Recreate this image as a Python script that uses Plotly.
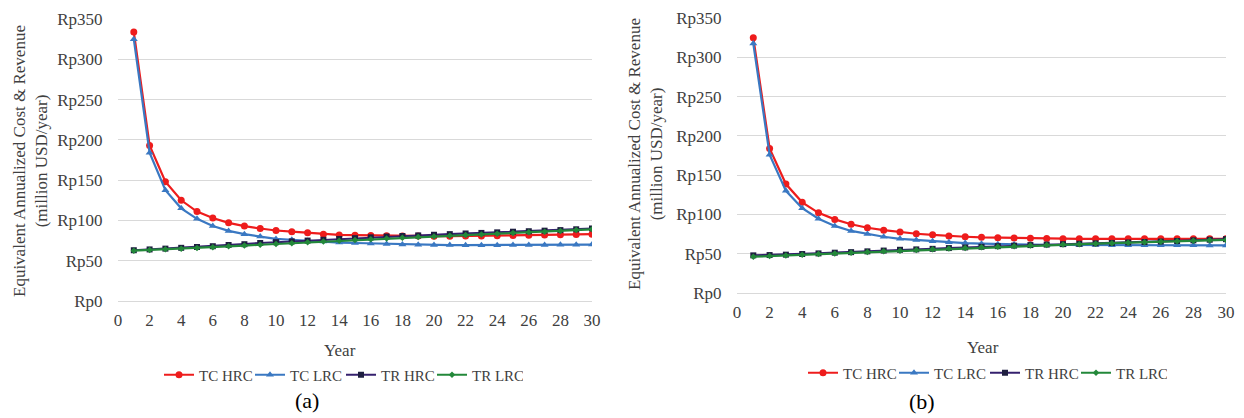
import plotly.graph_objects as go

years = list(range(1, 31))
x_ticks = list(range(0, 31, 2))
y_ticks = list(range(0, 351, 50))
y_tick_labels = ["Rp" + str(v) for v in y_ticks]

# Panel (a)
tc_hrc_a = [334, 193, 148, 125, 111, 103, 97, 93, 90, 87.5, 86, 84.6, 83, 82, 81.7,
            81.3, 81, 80.8, 80.6, 80.5, 80.5, 80.6, 80.8, 81, 81.3, 81.6, 82, 82.3, 82.6, 83]
tc_lrc_a = [325, 184, 137.5, 115, 102, 93, 87, 83, 80, 77, 76, 74.6, 74, 72.5, 72,
            71.5, 70.8, 70.2, 69.8, 69.5, 69.4, 69.3, 69.3, 69.3, 69.4, 69.5, 69.6, 69.7, 69.8, 70]
tr_hrc_a = [63, 64, 65, 66, 67, 68, 69.5, 70.5, 72, 73, 74, 75, 76, 77, 78,
            79, 80, 80.7, 81.4, 82.2, 83, 83.8, 84.5, 85.2, 86, 86.6, 87.3, 88, 89, 90]
tr_lrc_a = [62.5, 63.3, 64.1, 65, 65.9, 66.8, 67.8, 68.8, 69.8, 70.8, 71.8, 72.8, 73.8, 74.8, 75.8,
            76.7, 77.6, 78.5, 79.3, 80.1, 80.9, 81.8, 82.6, 83.5, 84.3, 85.2, 86.1, 87, 88, 89]

# Panel (b)
tc_hrc_b = [325, 184, 138.7, 115.4, 102, 93.7, 87.5, 83, 80, 77.5, 75.4, 74, 72.5, 71.6, 70.8,
            70.4, 70, 69.6, 69.3, 69.1, 69, 69, 69, 69, 69, 69, 69, 69, 69, 69]
tc_lrc_b = [317.5, 176, 130, 108, 94.6, 85.4, 79, 75, 71.6, 69, 67.5, 65.8, 64.6, 63.5, 62.8,
            62.2, 61.8, 61.5, 61.3, 61.1, 61, 61, 60.9, 60.9, 60.8, 60.8, 60.7, 60.7, 60.6, 60.6]
tr_hrc_b = [47.9, 48.3, 48.8, 49.6, 50.4, 51.3, 52, 53, 54, 55, 55.5, 56.2, 57.2, 58, 58.8,
            59.6, 60.3, 61, 61.6, 62.2, 62.7, 63.2, 63.7, 64.3, 64.9, 65.5, 66.2, 67, 67.8, 68.5]
tr_lrc_b = [46.2, 47, 47.8, 48.6, 49.5, 50.4, 51.2, 52.1, 53, 53.9, 54.8, 55.6, 56.5, 57.3, 58.1,
            58.9, 59.6, 60.3, 61, 61.6, 62.2, 62.8, 63.4, 64, 64.6, 65.2, 65.8, 66.4, 67, 67.5]

series_names = ["TC HRC", "TC LRC", "TR HRC", "TR LRC"]
panel_a = [tc_hrc_a, tc_lrc_a, tr_hrc_a, tr_lrc_a]
panel_b = [tc_hrc_b, tc_lrc_b, tr_hrc_b, tr_lrc_b]

colors = ["#EE1C1C", "#3A78C2", "#35206E", "#23883A"]
marker_colors = ["#EE1C1C", "#3A78C2", "#1E1E40", "#23883A"]
symbols = ["circle", "triangle-up", "square", "diamond"]
msizes = [7, 7, 6, 5]

FONT = "'Liberation Serif', 'Times New Roman', serif"
TXT = "#404040"

# page has an 8px body margin; figure coordinates = page coordinates - OFF
OFF = 8
W, H = 1244 - OFF, 418 - OFF

fig = go.Figure()
for vals_list, xa, ya, lg in [(panel_a, "x", "y", "legend"), (panel_b, "x2", "y2", "legend2")]:
    for i, vals in enumerate(vals_list):
        fig.add_trace(go.Scatter(
            x=years, y=vals, mode="lines+markers", name=series_names[i],
            line=dict(color=colors[i], width=2.2),
            marker=dict(symbol=symbols[i], size=msizes[i], color=marker_colors[i]),
            xaxis=xa, yaxis=ya, legend=lg,
        ))

def px_x(p):
    return (p - OFF) / W

def px_y(p):
    return (H - (p - OFF)) / H

xa_common = dict(range=[0, 30], tickvals=x_ticks, showgrid=False, zeroline=False,
                 showline=False, ticks="outside", ticklen=4, tickcolor="rgba(0,0,0,0)",
                 tickfont=dict(family=FONT, size=17, color=TXT), fixedrange=True,
                 automargin=False, ticklabeloverflow="allow")
ya_common = dict(range=[0, 350], tickmode="array", tickvals=y_ticks, ticktext=y_tick_labels,
                 showgrid=True,
                 gridcolor="#D9D9D9", gridwidth=1, zeroline=True, zerolinecolor="#D9D9D9",
                 zerolinewidth=1, showline=False, ticks="outside", ticklen=11,
                 tickcolor="rgba(0,0,0,0)",
                 tickfont=dict(family=FONT, size=17, color=TXT), fixedrange=True,
                 automargin=False, ticklabeloverflow="allow")

leg_common = dict(orientation="h", xanchor="center", yanchor="middle",
                  font=dict(family=FONT, size=15, color=TXT), bgcolor="rgba(0,0,0,0)",
                  itemwidth=30, tracegroupgap=0, entrywidth=46, entrywidthmode="pixels")

fig.update_layout(
    width=W, height=H,
    margin=dict(l=0, r=0, t=0, b=0, autoexpand=False),
    paper_bgcolor="white", plot_bgcolor="white",
    font=dict(family=FONT, color=TXT),
    xaxis=dict(domain=[px_x(118), px_x(592)], anchor="y", **xa_common),
    yaxis=dict(domain=[px_y(301), px_y(19)], anchor="x", **ya_common),
    xaxis2=dict(domain=[px_x(737), px_x(1226)], anchor="y2", **xa_common),
    yaxis2=dict(domain=[px_y(293), px_y(18)], anchor="x2", **ya_common),
    legend=dict(x=px_x(341), y=px_y(375), **leg_common),
    legend2=dict(x=px_x(985), y=px_y(373), **leg_common),
    showlegend=True,
)

ytitle = "Equivalent Annualized Cost & Revenue<br>(million USD/year)"
annots = [
    dict(text=ytitle, x=px_x(30), y=px_y(161), textangle=-90),
    dict(text=ytitle, x=px_x(645), y=px_y(154), textangle=-90),
    dict(text="Year", x=px_x(340), y=px_y(350)),
    dict(text="Year", x=px_x(983), y=px_y(347)),
]
for a in annots:
    fig.add_annotation(xref="paper", yref="paper", showarrow=False,
                       xanchor="center", yanchor="middle",
                       font=dict(family=FONT, size=17, color=TXT), **a)

for t, xc, yc in [("(a)", 307, 400), ("(b)", 922, 401)]:
    fig.add_annotation(text=t, xref="paper", yref="paper", x=px_x(xc), y=px_y(yc),
                       showarrow=False, xanchor="center", yanchor="middle",
                       font=dict(family=FONT, size=22, color="#000000"))

fig.write_html("out.html")
